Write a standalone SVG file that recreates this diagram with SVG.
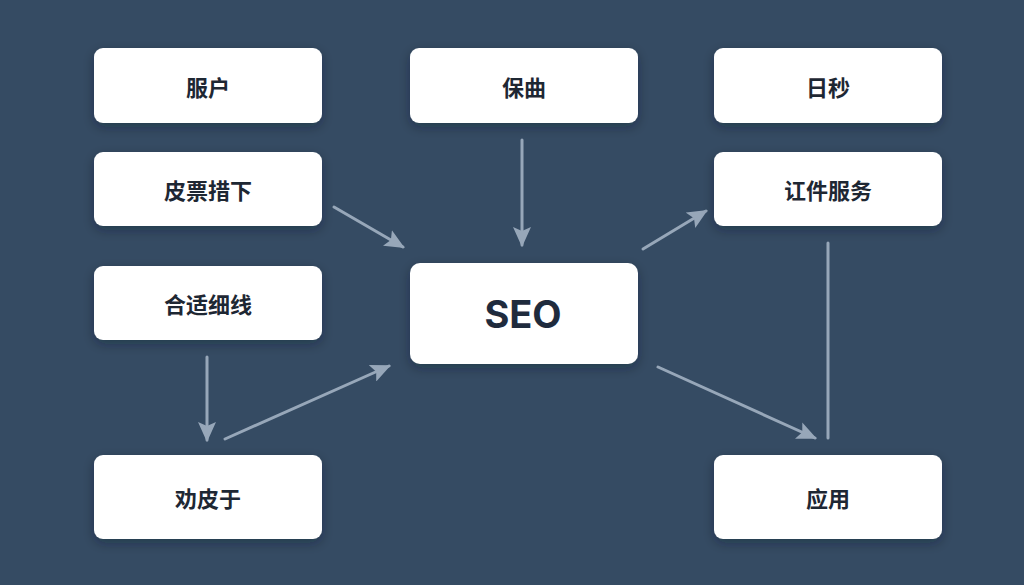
<svg xmlns="http://www.w3.org/2000/svg" width="1024" height="585" viewBox="0 0 1024 585">
<defs>
<style>
.node rect{fill:#ffffff;filter:url(#sh)}
.node text{font-family:"Noto Sans CJK SC","Noto Sans",sans-serif;font-size:22px;font-weight:700;fill:#1e2733;text-anchor:middle;dominant-baseline:central}
.node text.big{font-family:Inter,"Noto Sans","Liberation Sans",sans-serif;font-size:38px;font-weight:700;fill:#1f2b3d}
.edge{stroke:#97a7b9;stroke-width:3;fill:none;stroke-linecap:round}
</style>
<filter id="sh" x="-20%" y="-30%" width="140%" height="170%">
<feDropShadow dx="0" dy="4" stdDeviation="6" flood-color="#0f1a28" flood-opacity="0.35"/>
</filter>
<marker id="ah2" markerWidth="20" markerHeight="18" refX="18" refY="9" orient="auto" markerUnits="userSpaceOnUse" viewBox="0 0 20 18">
<path d="M0,0 L20,9 L0,18 L4,9 Z" fill="#97a7b9"/>
</marker>
</defs>
<rect width="1024" height="585" fill="#354b63"/>
<g id="connectors">
<line class="edge" x1="334" y1="207" x2="403" y2="247" marker-end="url(#ah2)"/>
<line class="edge" x1="522" y1="140" x2="522" y2="245" marker-end="url(#ah2)"/>
<line class="edge" x1="643" y1="249" x2="706" y2="211" marker-end="url(#ah2)"/>
<line class="edge" x1="828" y1="243" x2="828" y2="438"/>
<line class="edge" x1="658" y1="367" x2="815" y2="438" marker-end="url(#ah2)"/>
<line class="edge" x1="207" y1="357" x2="207" y2="440" marker-end="url(#ah2)"/>
<line class="edge" x1="225" y1="439" x2="389" y2="366" marker-end="url(#ah2)"/>
</g>
<g id="n1" class="node"><rect x="94" y="48" width="228" height="75" rx="9"/><text x="208" y="86">服户</text></g>
<g id="n2" class="node"><rect x="94" y="152" width="228" height="74" rx="9"/><text x="208" y="189">皮票措下</text></g>
<g id="n3" class="node"><rect x="94" y="266" width="228" height="74" rx="9"/><text x="208" y="303">合适细线</text></g>
<g id="n4" class="node"><rect x="94" y="455" width="228" height="84" rx="9"/><text x="208" y="497">劝皮于</text></g>
<g id="n5" class="node"><rect x="410" y="48" width="228" height="75" rx="9"/><text x="524" y="86">保曲</text></g>
<g id="n6" class="node"><rect x="410" y="263" width="228" height="101" rx="10"/><text class="big" x="523" y="314">SEO</text></g>
<g id="n7" class="node"><rect x="714" y="48" width="228" height="75" rx="9"/><text x="828" y="86">日秒</text></g>
<g id="n8" class="node"><rect x="714" y="152" width="228" height="74" rx="9"/><text x="828" y="189">讧件服务</text></g>
<g id="n9" class="node"><rect x="714" y="455" width="228" height="84" rx="9"/><text x="828" y="497">应用</text></g>
</svg>
